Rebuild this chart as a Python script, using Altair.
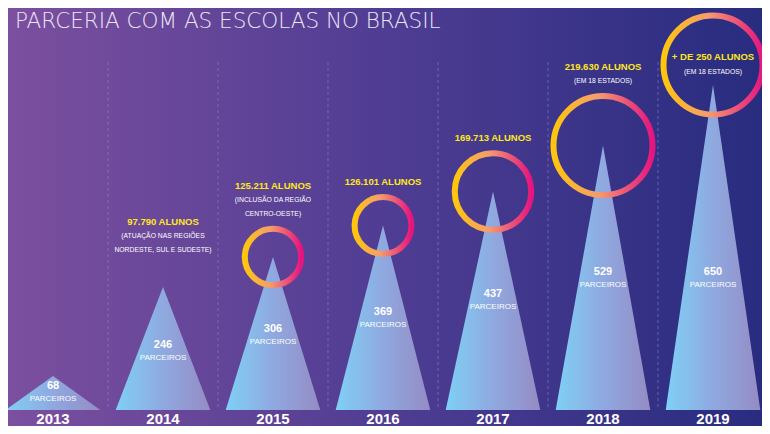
import altair as alt
import pandas as pd
import numpy as np

# ---------------- data ----------------
years = ["2013", "2014", "2015", "2016", "2017", "2018", "2019"]
partners = [68, 246, 306, 369, 437, 529, 650]
students = [0, 97790, 125211, 126101, 169713, 219630, 250000]
student_labels = ["", "97.790 ALUNOS", "125.211 ALUNOS", "126.101 ALUNOS",
                  "169.713 ALUNOS", "219.630 ALUNOS", "+ DE 250 ALUNOS"]
notes = [[], ["(ATUAÇÃO NAS REGIÕES", "NORDESTE, SUL E SUDESTE)"],
         ["(INCLUSÃO DA REGIÃO", "CENTRO-OESTE)"], [], [],
         ["(EM 18 ESTADOS)"], ["(EM 18 ESTADOS)"]]
ring_years = ["2015", "2016", "2017", "2018", "2019"]
partner_word = "PARCEIROS"
title_text = "PARCERIA COM AS ESCOLAS NO BRASIL"

# ---------------- layout constants ----------------
W, H = 754, 418
PX = 0.5               # pixels per partner unit
COL = 110.0            # column width in px
X0 = 45.0              # centre of first column in px
HALF = 0.43            # half base width of triangles (columns)
RING_W = 6
R_MAX = 49.5           # ring centre-line radius for the clamp value
S_CLAMP = 219630
LIFT_2019 = 20
SEP_TOP = 696          # top of the dashed separators, in partner units

FN = "Liberation Sans, Arial, sans-serif"

xs = alt.Scale(domain=[-X0 / COL, (W - X0) / COL], nice=False, zero=False)
ys = alt.Scale(domain=[-(H - 402) / PX, 402 / PX], nice=False, zero=False)


def grad(stops):
    return {"gradient": "linear", "x1": 0, "x2": 1, "y1": 0, "y2": 0,
            "stops": [{"color": c, "offset": o} for o, c in stops]}


tri_grad = grad([(0, "#7fd0f6"), (0.5, "#8fa9e0"), (1, "#958bc4")])
bg_grad = grad([(0, "#7c4f9f"), (0.5, "#4f3d93"), (1, "#282c7f")])
ring_grad = grad([(0, "#ffc60c"), (0.45, "#f59c6e"), (1, "#e5147f")])

# triangles
tri_rows = []
for i, (y, p) in enumerate(zip(years, partners)):
    tri_rows += [dict(year=y, x=i - HALF, v=0, base=0), dict(year=y, x=i, v=p, base=0),
                 dict(year=y, x=i + HALF, v=0, base=0)]
tri = pd.DataFrame(tri_rows)

# rings
ring = pd.DataFrame([dict(year=y, x=i, v=partners[i], s=students[i])
                     for i, y in enumerate(years) if y in ring_years])

# separators
seps = pd.DataFrame({"x": [i + 0.5 for i in range(len(years) - 1)],
                     "top": SEP_TOP, "bottom": 0})

# labels
rows = []
for i, y in enumerate(years):
    p = partners[i]
    rows.append(dict(kind="year", x=i, v=-18, text=y))
    num_v = float(np.clip(0.53 * p, 48, 276))
    rows.append(dict(kind="num", x=i, v=num_v, text=str(p)))
    rows.append(dict(kind="parc", x=i, v=num_v - 26, text=partner_word))
    if student_labels[i]:
        r_out = R_MAX * min(students[i], S_CLAMP) / S_CLAMP + RING_W / 2
        if y == "2019":
            rows.append(dict(kind="alunos", x=i, v=p + 28 / PX, text=student_labels[i]))
            for k, n in enumerate(notes[i]):
                rows.append(dict(kind="note", x=i, v=p + (13 - 14 * k) / PX, text=n))
        else:
            lines = [("alunos", student_labels[i])] + [("note", n) for n in notes[i]]
            base = r_out + 12
            for k, (kd, t) in enumerate(reversed(lines)):
                rows.append(dict(kind=kd, x=i, v=p + (base + 14 * k) / PX, text=t))
labels = pd.DataFrame(rows)

X = alt.X("x:Q", scale=xs, axis=None)
Y = alt.Y("v:Q", scale=ys, axis=None)

bg = alt.Chart(pd.DataFrame({"a": [0]})).mark_rect(color=bg_grad, opacity=1).encode(
    x=alt.value(0), x2=alt.value(W), y=alt.value(0), y2=alt.value(H))

sep_layer = alt.Chart(seps).mark_rule(color="#9a8cd0", strokeDash=[3, 3],
                                      strokeWidth=1, opacity=0.5).encode(
    x=X, y=alt.Y("top:Q", scale=ys, axis=None), y2="bottom:Q")

tri_layer = alt.Chart(tri).mark_area(color=tri_grad, opacity=1).encode(
    x=X, y=alt.Y("v:Q", scale=ys, axis=None, stack=None), y2="base:Q",
    detail="year:N")

size_scale = alt.Scale(type="pow", exponent=2, domain=[0, S_CLAMP],
                       range=[0, (2 * R_MAX) ** 2], clamp=True)
ring_main = alt.Chart(ring).transform_filter("datum.year != '2019'").mark_point(
    shape="circle", filled=False, stroke=ring_grad, strokeWidth=RING_W, opacity=1).encode(
    x=X, y=Y, size=alt.Size("s:Q", scale=size_scale, legend=None))
ring_top = alt.Chart(ring).transform_filter("datum.year == '2019'").mark_point(
    shape="circle", filled=False, stroke=ring_grad, strokeWidth=RING_W, opacity=1,
    yOffset=-LIFT_2019).encode(
    x=X, y=Y, size=alt.Size("s:Q", scale=size_scale, legend=None))


def text_layer(kind, **kw):
    return alt.Chart(labels).transform_filter(f"datum.kind == '{kind}'").mark_text(
        align="center", baseline="middle", font=FN, **kw).encode(x=X, y=Y, text="text:N")


t_year = text_layer("year", fontSize=15, fontWeight="bold", color="#ffffff")
t_num = text_layer("num", fontSize=11, fontWeight="bold", color="#ffffff")
t_parc = text_layer("parc", fontSize=8, color="#ffffff")
t_alunos = text_layer("alunos", fontSize=9.5, fontWeight="bold", color="#ffe81a")
t_note = text_layer("note", fontSize=6.8, color="#ffffff")

title = alt.Chart(pd.DataFrame({"t": [title_text]})).mark_text(
    align="left", baseline="middle", font="DejaVu Sans", fontWeight=200,
    fontSize=21.5, color="#ece6f6").encode(
    x=alt.value(7), y=alt.value(14), text="t:N")

chart = alt.layer(bg, sep_layer, tri_layer, ring_main, ring_top,
                  t_year, t_num, t_parc, t_alunos, t_note, title).properties(
    width=W, height=H, padding=0, background="#4b3b92",
    autosize=alt.AutoSizeParams(type="none")
).configure_view(stroke=None)

chart.save("out.html", embed_options={"renderer": "svg", "actions": False})
